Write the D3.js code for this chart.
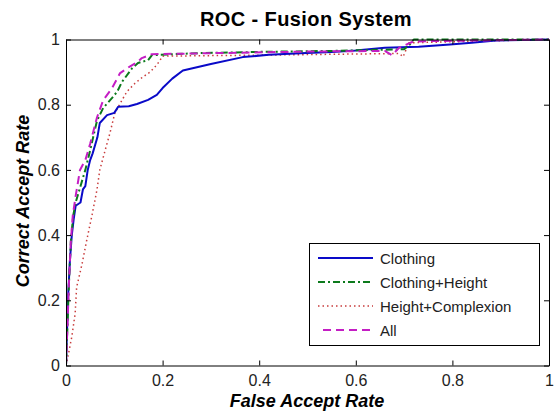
<!DOCTYPE html>
<html><head><meta charset="utf-8">
<script src="https://cdn.jsdelivr.net/npm/d3@7/dist/d3.min.js"></script>
<style>body{margin:0;background:#fff}svg{display:block}text{font-family:"Liberation Sans",Arial,sans-serif}</style>
</head><body><svg id="c" width="554" height="413"></svg>
<script>
const ticks = [0, 0.2, 0.4, 0.6, 0.8, 1];
const tickLabels = ["0", "0.2", "0.4", "0.6", "0.8", "1"];
const seriesNames = ["Clothing", "Clothing+Height", "Height+Complexion", "All"];

const clothingX = [0, 0.002, 0.004, 0.008, 0.012, 0.016, 0.02, 0.03, 0.035, 0.04, 0.045, 0.05, 0.055, 0.065, 0.07, 0.085, 0.1, 0.108, 0.13, 0.147, 0.17, 0.188, 0.2, 0.22, 0.242, 0.3, 0.366, 0.42, 0.485, 0.55, 0.6, 0.66, 0.73, 0.795, 0.84, 0.89, 1];
const clothingY = [0, 0.1, 0.2, 0.32, 0.4, 0.45, 0.49, 0.5, 0.54, 0.55, 0.6, 0.63, 0.65, 0.7, 0.744, 0.768, 0.775, 0.794, 0.795, 0.802, 0.815, 0.83, 0.851, 0.88, 0.905, 0.925, 0.946, 0.953, 0.958, 0.962, 0.966, 0.975, 0.978, 0.985, 0.99, 0.997, 1];

const chX = [0, 0.003, 0.006, 0.01, 0.015, 0.02, 0.03, 0.04, 0.05, 0.064, 0.077, 0.095, 0.106, 0.116, 0.137, 0.149, 0.17, 0.178, 0.27, 0.4, 0.55, 0.7, 0.712, 0.72, 1];
const chY = [0, 0.12, 0.25, 0.38, 0.46, 0.5, 0.55, 0.6, 0.66, 0.75, 0.79, 0.82, 0.84, 0.87, 0.912, 0.928, 0.937, 0.952, 0.958, 0.962, 0.965, 0.97, 0.985, 1, 1];

const hcX = [0, 0.003, 0.007, 0.012, 0.019, 0.022, 0.033, 0.043, 0.053, 0.064, 0.07, 0.081, 0.091, 0.101, 0.116, 0.126, 0.143, 0.159, 0.174, 0.188, 0.195, 0.2, 0.4, 0.69, 0.698, 0.71, 0.8, 1];
const hcY = [0, 0.02, 0.05, 0.088, 0.16, 0.24, 0.31, 0.385, 0.455, 0.538, 0.6, 0.66, 0.713, 0.774, 0.814, 0.84, 0.866, 0.885, 0.9, 0.922, 0.937, 0.949, 0.952, 0.957, 0.947, 0.99, 0.993, 1];

const allX = [0, 0.003, 0.006, 0.01, 0.014, 0.02, 0.029, 0.04, 0.05, 0.064, 0.077, 0.095, 0.112, 0.132, 0.149, 0.157, 0.178, 0.3, 0.5, 0.66, 0.675, 0.69, 0.718, 0.75, 1];
const allY = [0, 0.12, 0.25, 0.38, 0.46, 0.52, 0.6, 0.63, 0.68, 0.76, 0.814, 0.85, 0.897, 0.917, 0.932, 0.943, 0.955, 0.958, 0.963, 0.965, 0.952, 0.975, 0.993, 0.995, 1];

const colors = ["#0a0ac8", "#0c7a1c", "#c83c3c", "#c41ec4"];
const dashes = [null, "7,3,2,3", "1.5,3", "8,5"];
const widths = [2, 2, 1.5, 2];

const svg = d3.select("#c");
const L = 66, R = 549, T = 39.5, B = 365.5;
const x = d3.scaleLinear().domain([0, 1]).range([L, R]);
const y = d3.scaleLinear().domain([0, 1]).range([B, T]);

const series = [
  clothingX.map((v, i) => [v, clothingY[i]]),
  chX.map((v, i) => [v, chY[i]]),
  hcX.map((v, i) => [v, hcY[i]]),
  allX.map((v, i) => [v, allY[i]])
];

svg.append("defs").append("clipPath").attr("id", "clip")
  .append("rect").attr("x", L).attr("y", T - 2).attr("width", R - L).attr("height", B - T + 2);

const line = d3.line().x(d => x(d[0])).y(d => y(d[1]));
const g = svg.append("g").attr("clip-path", "url(#clip)");
[2, 0, 1, 3].forEach(i => {
  g.append("path").datum(series[i]).attr("d", line)
    .attr("fill", "none").attr("stroke", colors[i]).attr("stroke-width", widths[i])
    .attr("stroke-dasharray", dashes[i]).attr("stroke-linejoin", "round");
});

// axes (MATLAB box with inward ticks)
const fmt = (d, i) => tickLabels[i];
const axB = d3.axisBottom(x).tickValues(ticks).tickFormat(fmt).tickSizeInner(-5).tickSizeOuter(0).tickPadding(9);
const axL = d3.axisLeft(y).tickValues(ticks).tickFormat(fmt).tickSizeInner(-5).tickSizeOuter(0).tickPadding(6);
const axT = d3.axisTop(x).tickValues(ticks).tickFormat("").tickSizeInner(-5).tickSizeOuter(0);
const axR = d3.axisRight(y).tickValues(ticks).tickFormat("").tickSizeInner(-5).tickSizeOuter(0);
svg.append("g").attr("transform", `translate(0,${B})`).call(axB);
svg.append("g").attr("transform", `translate(${L},0)`).call(axL);
svg.append("g").attr("transform", `translate(0,${T})`).call(axT);
svg.append("g").attr("transform", `translate(${R},0)`).call(axR);
svg.selectAll(".domain").attr("stroke", "#000").attr("stroke-width", 1);
svg.selectAll(".tick line").attr("stroke", "#000");
svg.selectAll(".tick text").attr("font-size", 16).attr("fill", "#222")
  .attr("font-family", "'Liberation Sans',Arial,sans-serif");

svg.append("text").attr("x", 306).attr("y", 26).attr("text-anchor", "middle")
  .attr("font-size", 20).attr("font-weight", "bold").attr("letter-spacing", 0.4).text("ROC - Fusion System");
svg.append("text").attr("x", 307).attr("y", 407).attr("text-anchor", "middle")
  .attr("font-size", 18).attr("font-weight", "bold").attr("font-style", "italic").text("False Accept Rate");
svg.append("text").attr("transform", "translate(29,201) rotate(-90)").attr("text-anchor", "middle")
  .attr("font-size", 18).attr("font-weight", "bold").attr("font-style", "italic").text("Correct Accept Rate");

// legend
const lg = svg.append("g");
lg.append("rect").attr("x", 309.5).attr("y", 243.5).attr("width", 230).attr("height", 102)
  .attr("fill", "#fff").attr("stroke", "#000");
seriesNames.forEach((n, i) => {
  const yy = 258 + i * 24;
  lg.append("line").attr("x1", i === 3 ? 323 : 318).attr("x2", 373).attr("y1", yy).attr("y2", yy)
    .attr("stroke", colors[i]).attr("stroke-width", widths[i]).attr("stroke-dasharray", dashes[i]);
  lg.append("text").attr("x", 380).attr("y", yy + 5.5).attr("font-size", 15).attr("fill", "#222").text(n);
});
</script></body></html>
